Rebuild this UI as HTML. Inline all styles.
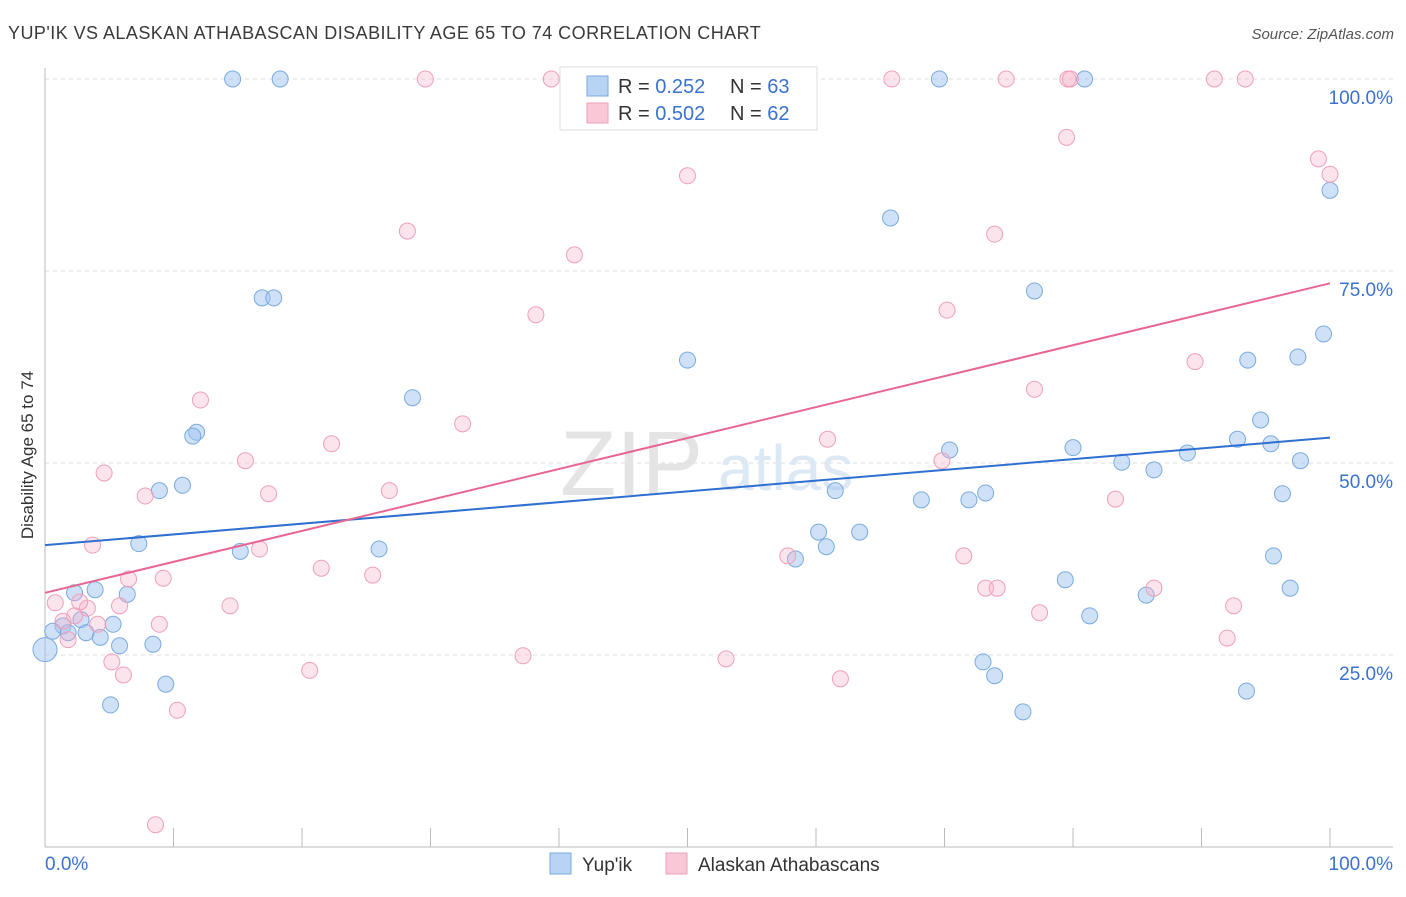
<!DOCTYPE html>
<html><head><meta charset="utf-8">
<style>
body{margin:0;background:#fff;font-family:"Liberation Sans",sans-serif;}
svg text{font-family:"Liberation Sans",sans-serif;}
</style></head>
<body>
<svg id="chart" width="1406" height="892" xmlns="http://www.w3.org/2000/svg">
<text x="8" y="39" font-size="18" fill="#3a3a3a" letter-spacing="0.45">YUP'IK VS ALASKAN ATHABASCAN DISABILITY AGE 65 TO 74 CORRELATION CHART</text>
<text x="1394" y="39" font-size="15" fill="#555" font-style="italic" text-anchor="end">Source: ZipAtlas.com</text>
<g id="grid"></g>
<g id="axes"></g>
<text x="560" y="495" font-size="92" fill="#e4e4e4" font-family="Liberation Serif">ZIP</text>
<text x="718" y="490" font-size="64" fill="#dde8f5">atlas</text>
<g id="points"></g>
<g id="trends"></g>
<text transform="translate(33,455) rotate(-90)" font-size="17" fill="#333" text-anchor="middle">Disability Age 65 to 74</text>
<g>
<rect x="560" y="67" width="257" height="63" fill="#fff" stroke="#ddd"/>
<rect x="587" y="76" width="21" height="20" fill="#b9d3f5" stroke="#7aaae0"/>
<text x="618" y="93" font-size="20" fill="#333">R = <tspan fill="#3a72d0">0.252</tspan></text>
<text x="730" y="93" font-size="20" fill="#333">N = <tspan fill="#3a72d0">63</tspan></text>
<rect x="587" y="103" width="21" height="20" fill="#f9c8d6" stroke="#eea0b8"/>
<text x="618" y="120" font-size="20" fill="#333">R = <tspan fill="#3a72d0">0.502</tspan></text>
<text x="730" y="120" font-size="20" fill="#333">N = <tspan fill="#3a72d0">62</tspan></text>
</g>
<g>
<rect x="550" y="853" width="21" height="21" fill="#b9d3f5" stroke="#7aaae0"/>
<text x="582" y="871" font-size="19" fill="#333">Yup'ik</text>
<rect x="666" y="853" width="21" height="21" fill="#f9c8d6" stroke="#eea0b8"/>
<text x="698" y="871" font-size="19" fill="#333">Alaskan Athabascans</text>
</g>
</svg>
<script>
const yTicks=[25,50,75,100];
const yTickLabels=["25.0%","50.0%","75.0%","100.0%"];
const blueX=[14.6,18.3,69.6,80.9,100,65.8,16.9,17.8,77.0,99.5,50.0,93.6,97.5,28.6,94.6,11.8,11.5,92.8,80.0,70.4,95.4,88.9,83.8,97.7,86.3,10.7,8.9,61.5,73.2,68.2,71.9,96.3,7.3,15.2,26.0,60.2,63.4,60.8,58.4,95.6,79.4,3.9,2.3,6.4,85.7,96.9,81.3,5.3,1.4,2.8,1.8,0.6,3.2,4.3,5.8,8.4,0,73.0,73.9,9.4,5.1,93.5,76.1];
const blueY=[100,100,100,100,85.5,81.9,71.5,71.5,72.4,66.8,63.4,63.4,63.8,58.5,55.6,54.0,53.5,53.1,52.0,51.7,52.5,51.3,50.1,50.3,49.1,47.1,46.4,46.4,46.1,45.2,45.2,46.0,39.5,38.5,38.8,41.0,41.0,39.1,37.5,37.9,34.8,33.5,33.1,32.9,32.8,33.7,30.1,29.0,28.8,29.6,27.9,28.1,27.9,27.3,26.2,26.4,25.7,24.1,22.3,21.2,18.5,20.3,17.6];
const pinkX=[29.6,39.4,65.9,74.8,79.6,79.8,91.0,93.4,79.5,99.1,100,50.0,28.2,41.2,73.9,38.2,70.2,89.5,12.1,77.0,32.5,22.3,60.9,15.6,4.6,69.8,7.8,17.4,26.8,83.3,3.7,16.7,57.8,71.5,21.5,25.5,9.2,6.5,73.2,74.1,86.3,0.8,5.8,14.4,3.3,2.7,2.3,92.5,77.4,4.1,8.9,1.4,1.8,92.0,5.2,37.2,53.0,20.6,6.1,61.9,10.3,8.6];
const pinkY=[100,100,100,100,100,100,100,100,92.4,89.6,87.6,87.4,80.2,77.1,79.8,69.3,69.9,63.2,58.2,59.6,55.1,52.5,53.1,50.3,48.7,50.3,45.7,46.0,46.4,45.3,39.3,38.8,37.9,37.9,36.3,35.4,35.0,34.9,33.7,33.7,33.7,31.8,31.4,31.4,31.1,31.9,30.1,31.4,30.5,29.0,29.0,29.4,27.0,27.2,24.1,24.9,24.5,23.0,22.4,21.9,17.8,2.9];
const blueTrend=[39.3,53.3];
const pinkTrend=[33.1,73.4];
const X=v=>45+v*12.85, Y=v=>847-v*7.68;
const NS="http://www.w3.org/2000/svg";
function mk(t,a,p){const e=document.createElementNS(NS,t);for(const k in a)e.setAttribute(k,a[k]);p.appendChild(e);return e;}
const grid=document.getElementById('grid'),axes=document.getElementById('axes');
yTicks.forEach((t,i)=>{
 const l=mk('line',{x1:45,x2:1393,y1:Y(t),y2:Y(t),stroke:'#ddd','stroke-dasharray':'4,4'},grid);
 
 
 const tx=mk('text',{x:1393,y:Y(t)+25,'font-size':19,fill:'#3a72d0','text-anchor':'end'},axes);
 tx.textContent=yTickLabels[i];
 
 
});
mk('line',{x1:45,x2:45,y1:68,y2:847,stroke:'#bbb'},axes);
mk('line',{x1:45,x2:1393,y1:847,y2:847,stroke:'#bbb'},axes);
for(let i=1;i<=10;i++){const l=mk('line',{x1:X(i*10),x2:X(i*10),y1:828,y2:847,stroke:'#bbb'},axes);}
let t0=mk('text',{x:45,y:870,'font-size':19,fill:'#3a72d0'},axes);t0.textContent='0.0%';


let t1=mk('text',{x:1393,y:870,'font-size':19,fill:'#3a72d0','text-anchor':'end'},axes);t1.textContent='100.0%';


const pts=document.getElementById('points');
function draw(xs,ys,fill,stroke,name){xs.forEach((x,i)=>{const r=(x===0)?12:8;const c=mk('circle',{cx:X(x),cy:Y(ys[i]),r:r,fill:fill,stroke:stroke,'stroke-width':1},pts);

});}
draw(blueX,blueY,'rgba(160,196,240,0.5)','#7aaae0','yupik-point');
draw(pinkX,pinkY,'rgba(246,178,200,0.35)','#eea0b8','athabascan-point');
const tr=document.getElementById('trends');
const bl=mk('line',{x1:X(0),y1:Y(blueTrend[0]),x2:X(100),y2:Y(blueTrend[1]),stroke:'#2f6fd0','stroke-width':2},tr);


const pl=mk('line',{x1:X(0),y1:Y(pinkTrend[0]),x2:X(100),y2:Y(pinkTrend[1]),stroke:'#e8668f','stroke-width':2},tr);


</script>
</body></html>
